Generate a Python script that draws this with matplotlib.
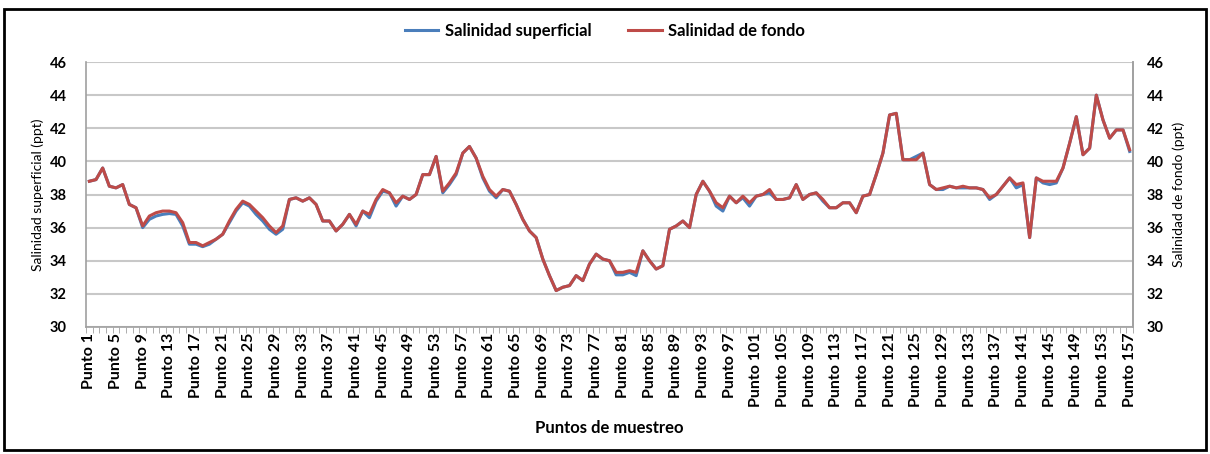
import matplotlib
matplotlib.use("Agg")
import matplotlib.pyplot as plt
from matplotlib.patches import Rectangle
from matplotlib.lines import Line2D

plt.rcParams['font.family'] = ['Lato', 'DejaVu Sans']

puntos = list(range(1, 158))
tick_labels = [f"Punto {i}" for i in range(1, 158, 4)]

salinidad_fondo = [
    38.8, 38.9, 39.6, 38.5, 38.4, 38.6, 37.4, 37.2, 36.1, 36.7,
    36.9, 37.0, 37.0, 36.9, 36.3, 35.1, 35.1, 34.9, 35.1, 35.3,
    35.6, 36.4, 37.1, 37.6, 37.4, 37.0, 36.6, 36.1, 35.7, 36.1,
    37.7, 37.8, 37.6, 37.8, 37.4, 36.4, 36.4, 35.8, 36.2, 36.8,
    36.2, 37.0, 36.8, 37.7, 38.3, 38.1, 37.5, 37.9, 37.7, 38.0,
    39.2, 39.2, 40.3, 38.2, 38.7, 39.3, 40.5, 40.9, 40.2, 39.1,
    38.3, 37.9, 38.3, 38.2, 37.4, 36.5, 35.8, 35.4, 34.1, 33.1,
    32.2, 32.4, 32.5, 33.1, 32.8, 33.8, 34.4, 34.1, 34.0, 33.3,
    33.3, 33.4, 33.3, 34.6, 34.0, 33.5, 33.7, 35.9, 36.1, 36.4,
    36.0, 38.0, 38.8, 38.2, 37.5, 37.2, 37.9, 37.5, 37.9, 37.5,
    37.9, 38.0, 38.3, 37.7, 37.7, 37.8, 38.6, 37.7, 38.0, 38.1,
    37.7, 37.2, 37.2, 37.5, 37.5, 36.9, 37.9, 38.0, 39.2, 40.5,
    42.8, 42.9, 40.1, 40.1, 40.1, 40.5, 38.6, 38.3, 38.4, 38.5,
    38.4, 38.5, 38.4, 38.4, 38.3, 37.8, 38.0, 38.5, 39.0, 38.6,
    38.7, 35.4, 39.0, 38.8, 38.8, 38.8, 39.6, 41.1, 42.7, 40.4,
    40.8, 44.0, 42.5, 41.4, 41.9, 41.9, 40.7,
]

salinidad_superficial = [
    38.8, 38.9, 39.6, 38.5, 38.4, 38.6, 37.4, 37.2, 36.0, 36.5,
    36.7, 36.8, 36.85, 36.8, 36.1, 35.0, 35.0, 34.85, 35.0, 35.3,
    35.6, 36.3, 37.0, 37.5, 37.3, 36.8, 36.4, 35.9, 35.6, 35.9,
    37.7, 37.8, 37.6, 37.8, 37.4, 36.4, 36.4, 35.8, 36.2, 36.8,
    36.1, 37.0, 36.6, 37.6, 38.2, 38.1, 37.3, 37.9, 37.7, 38.0,
    39.2, 39.2, 40.3, 38.1, 38.6, 39.2, 40.5, 40.9, 40.2, 39.0,
    38.2, 37.8, 38.3, 38.2, 37.4, 36.5, 35.8, 35.4, 34.1, 33.1,
    32.2, 32.4, 32.5, 33.1, 32.8, 33.8, 34.4, 34.1, 34.0, 33.15,
    33.15, 33.3, 33.1, 34.6, 34.0, 33.5, 33.7, 35.9, 36.1, 36.4,
    36.0, 38.0, 38.8, 38.2, 37.3, 37.0, 37.9, 37.5, 37.8, 37.3,
    37.9, 38.0, 38.1, 37.7, 37.7, 37.8, 38.6, 37.7, 38.0, 38.1,
    37.6, 37.2, 37.2, 37.5, 37.5, 36.9, 37.9, 38.0, 39.2, 40.5,
    42.8, 42.9, 40.1, 40.1, 40.3, 40.5, 38.6, 38.3, 38.3, 38.5,
    38.4, 38.4, 38.4, 38.4, 38.3, 37.7, 38.0, 38.5, 39.0, 38.4,
    38.6, 35.4, 39.0, 38.7, 38.6, 38.7, 39.6, 41.1, 42.7, 40.4,
    40.8, 44.0, 42.5, 41.4, 41.9, 41.9, 40.6,
]

y_ticks = list(range(30, 47, 2))

blue = '#4a7ebb'
red = '#be4b48'
grid_c = '#c8c8c8'

fig = plt.figure(figsize=(12.1, 4.54), dpi=100)
fig.patch.set_facecolor('white')
fig.patches.append(Rectangle((0.003, 0.008), 0.994, 0.972, transform=fig.transFigure,
                             fill=False, edgecolor='black', linewidth=2.0))

ax = fig.add_axes([86/1210, 1-327/454, (1133-86)/1210, (327-62)/454])
ax.plot(puntos, salinidad_superficial, color=blue, linewidth=2.2, zorder=3)
ax.plot(puntos, salinidad_fondo, color=red, linewidth=2.2, zorder=4)

ax.set_xlim(0.5, 157.5)
ax.set_ylim(30, 46)
ax.set_yticks(y_ticks)
ax.set_yticklabels([str(v) for v in y_ticks], fontsize=10.5, fontweight='bold')
ax.yaxis.grid(True, color=grid_c, linewidth=1.5)
ax.set_axisbelow(True)

ax.set_xticks(list(range(1, 158, 4)))
ax.set_xticklabels(tick_labels, rotation=90, fontsize=11.5, fontweight='bold')
ax.set_xticks([i + 0.5 for i in range(0, 158)], minor=True)
ax.tick_params(axis='x', which='major', length=0, pad=4)
ax.tick_params(axis='x', which='minor', length=4, color='#a0a0a0')
ax.tick_params(axis='y', length=0, pad=14)

ax.spines['top'].set_visible(False)
for s in ['left', 'right', 'bottom']:
    ax.spines[s].set_color('#a0a0a0')
    ax.spines[s].set_linewidth(1.2)

ax.set_ylabel('Salinidad superficial (ppt)', fontsize=10, labelpad=4)
ax.set_xlabel('Puntos de muestreo', fontsize=12, fontweight='bold', labelpad=9)

ax2 = ax.twinx()
ax2.set_ylim(30, 46)
ax2.set_yticks(y_ticks)
ax2.set_yticklabels([str(v) for v in y_ticks], fontsize=10.5, fontweight='bold')
ax2.tick_params(axis='y', length=0, pad=10)
for s in ['top', 'left', 'bottom']:
    ax2.spines[s].set_visible(False)
ax2.spines['right'].set_color('#a0a0a0')
ax2.spines['right'].set_linewidth(1.2)
ax2.set_ylabel('Salinidad de fondo (ppt)', fontsize=10, labelpad=6)

handles = [Line2D([0], [0], color=blue, linewidth=2.2),
           Line2D([0], [0], color=red, linewidth=2.2)]
fig.legend(handles, ['Salinidad superficial', 'Salinidad de fondo'],
           loc='center', bbox_to_anchor=(0.5, 1 - 31/454), ncol=2, frameon=False,
           prop={'size': 12, 'weight': 'bold'}, handlelength=2.0, columnspacing=2.2,
           handletextpad=0.4)

fig.savefig('out.png', dpi=100, facecolor='white')
